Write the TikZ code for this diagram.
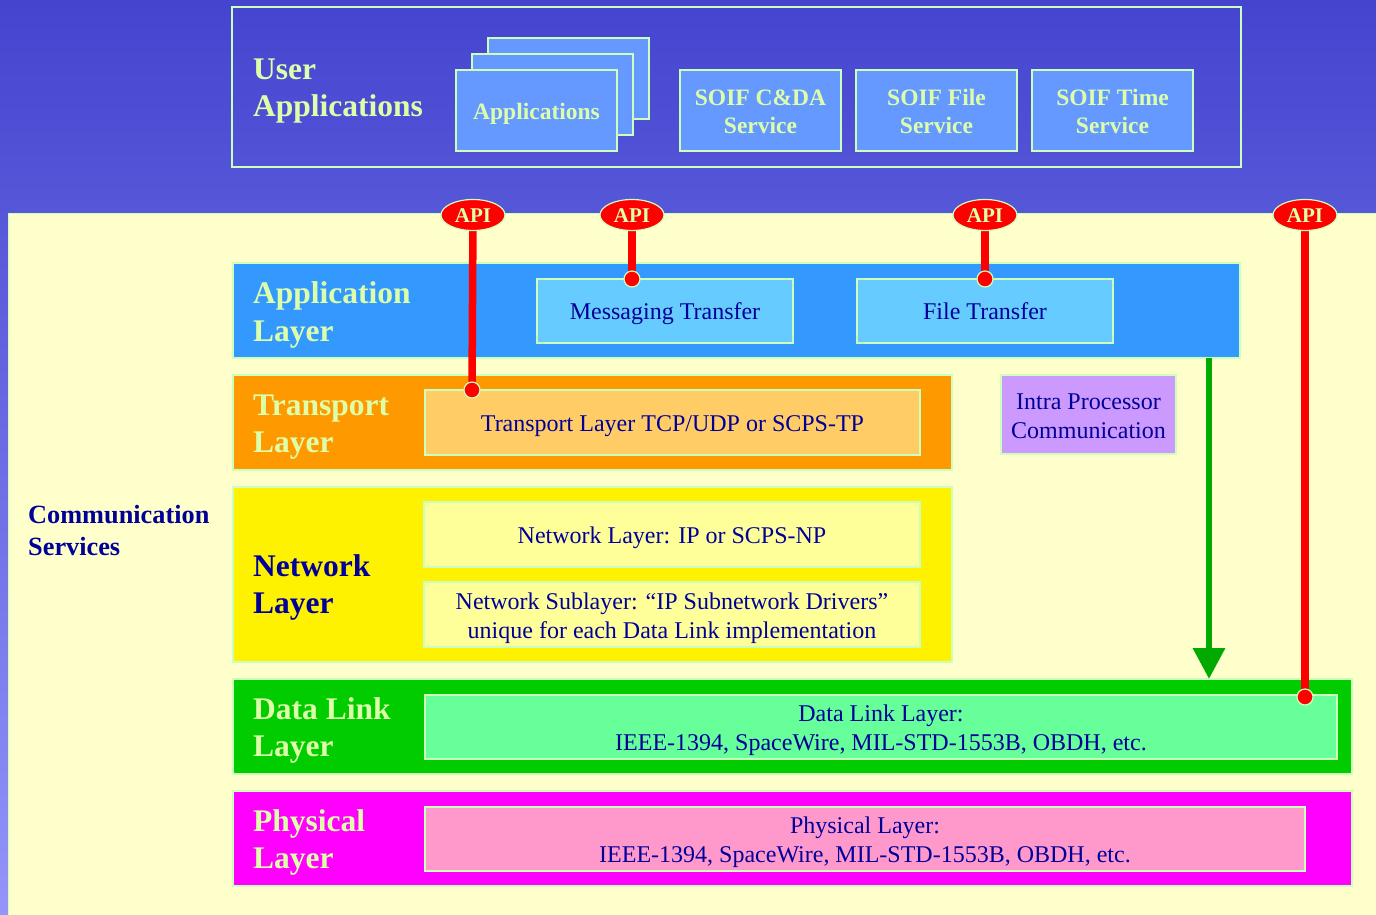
\documentclass[tikz,border=0pt]{standalone}
\usepackage{fontspec}
\setmainfont{Liberation Serif}
\usetikzlibrary{arrows.meta,shapes.geometric}
\definecolor{pale}{HTML}{DDFFAA}
\definecolor{edge}{HTML}{CCFFBB}
\definecolor{navy}{HTML}{000099}
\definecolor{bgtop}{HTML}{4444CF}
\definecolor{bgbot}{HTML}{9494FA}
\definecolor{cream}{HTML}{FFFFCC}
\definecolor{appblue}{HTML}{6699FF}
\definecolor{applayer}{HTML}{3399FF}
\definecolor{appinner}{HTML}{66CCFF}
\definecolor{trans}{HTML}{FF9900}
\definecolor{transin}{HTML}{FFCC66}
\definecolor{intra}{HTML}{CC99FF}
\definecolor{netin}{HTML}{FFFF99}
\definecolor{dlink}{HTML}{00CC00}
\definecolor{dlinkin}{HTML}{66FF99}
\definecolor{phys}{HTML}{FF00FF}
\definecolor{physin}{HTML}{FF99CC}
\definecolor{garrow}{HTML}{00AA00}
\begin{document}
\begin{tikzpicture}[x=1pt,y=-1pt,
  box/.style={draw=edge, line width=1.5pt, inner sep=0pt},
  title/.style={anchor=west, align=left, inner sep=0pt, font=\fontsize{31.5}{37.5}\selectfont\bfseries, text=pale},
  navytitle/.style={title, text=navy},
  body/.style={align=center, inner sep=0pt, font=\fontsize{24}{29}\selectfont, text=navy},
  boldpale/.style={align=center, inner sep=0pt, font=\fontsize{23.5}{28}\selectfont\bfseries, text=pale},
  api/.style={ellipse, fill=red, draw=edge, line width=1.2pt, minimum width=64pt, minimum height=31pt, inner sep=0pt},
  apitext/.style={inner sep=0pt, text=pale, font=\fontsize{21}{21}\selectfont\bfseries},
  apiline/.style={draw=red, line width=7.5pt},
  apidot/.style={circle, fill=red, draw=edge, line width=1.2pt, minimum size=16pt, inner sep=0pt},
  grarrow/.style={draw=garrow, line width=6.5pt, -{Triangle[width=31pt,length=31pt]}}
]
\useasboundingbox (0,0) rectangle (1376,915);
% background
\shade[top color=bgtop, bottom color=bgbot] (0,0) rectangle (1376,915);
\fill[cream] (8,213) rectangle (1376,915);
\draw[edge, line width=1pt] (8,915) -- (8,213) -- (1376,213);

% user applications area
\node[draw=edge, line width=1.8pt, minimum width=1009pt, minimum height=160pt, inner sep=0pt] (userbox) at (736.5,87) {};
\node[title] (usertitle) at (253,91) {User\\Applications};
\node[box, fill=appblue, minimum width=161pt, minimum height=81pt] (app3) at (568.5,78.5) {};
\node[box, fill=appblue, minimum width=161pt, minimum height=81pt] (app2) at (552.5,94.5) {};
\node[box, fill=appblue, minimum width=161pt, minimum height=81pt] (app1) at (536.5,110.5) {};
\node[boldpale, yshift=-3pt] (app1t) at (app1) {Applications};
\node[box, fill=appblue, minimum width=161pt, minimum height=81pt] (soif1) at (760.5,110.5) {};
\node[boldpale, yshift=-1pt] (soif1t) at (soif1) {SOIF C\&DA\\Service};
\node[box, fill=appblue, minimum width=161pt, minimum height=81pt] (soif2) at (936.5,110.5) {};
\node[boldpale, yshift=-1pt] (soif2t) at (soif2) {SOIF File\\Service};
\node[box, fill=appblue, minimum width=161pt, minimum height=81pt] (soif3) at (1112.5,110.5) {};
\node[boldpale, yshift=-1pt] (soif3t) at (soif3) {SOIF Time\\Service};

% communication services label
\node[anchor=west, align=left, inner sep=0pt, font=\fontsize{26.3}{32}\selectfont\bfseries, text=navy] (comm) at (28,530) {Communication\\Services};

% application layer
\node[box, fill=applayer, minimum width=1007pt, minimum height=95pt] (applay) at (736.5,310.5) {};
\node[title] (applaytitle) at (253,315) {Application\\Layer};
\node[box, fill=appinner, minimum width=256pt, minimum height=64pt] (msg) at (665,311) {};
\node[body, yshift=-3pt] (msgt) at (msg) {Messaging Transfer};
\node[box, fill=appinner, minimum width=256pt, minimum height=64pt] (file) at (985,311) {};
\node[body] (filet) at (file) {File Transfer};

% transport layer
\node[box, fill=trans, minimum width=719pt, minimum height=95pt] (translay) at (592.5,422.5) {};
\node[title] (transtitle) at (253,427) {Transport\\Layer};
\node[box, fill=transin, minimum width=495pt, minimum height=65pt] (transin) at (672.5,422.5) {};
\node[body, yshift=-4pt] (transint) at (transin) {Transport Layer TCP/UDP or SCPS-TP};

% intra processor
\node[box, fill=intra, minimum width=175pt, minimum height=79pt] (intra) at (1088.5,414.5) {};
\node[body, yshift=-2pt] (intrat) at (intra) {Intra Processor\\Communication};

% network layer
\node[box, fill=yellow, minimum width=719pt, minimum height=175pt] (netlay) at (592.5,574.5) {};
\node[navytitle] (nettitle) at (253,587.5) {Network\\Layer};
\node[box, fill=netin, minimum width=496pt, minimum height=65pt] (netin1) at (672,534.5) {};
\node[body, yshift=-3pt] (netin1t) at (netin1) {Network Layer: IP or SCPS-NP};
\node[box, fill=netin, minimum width=496pt, minimum height=65pt] (netin2) at (672,614.5) {};
\node[body, yshift=-4pt] (netin2t) at (netin2) {Network Sublayer: ``IP Subnetwork Drivers''\\unique for each Data Link implementation};

% data link layer
\node[box, fill=dlink, minimum width=1119pt, minimum height=95pt] (dllay) at (792.5,726.5) {};
\node[title] (dltitle) at (253,730.5) {Data Link\\Layer};
\node[box, fill=dlinkin, minimum width=912pt, minimum height=64pt] (dlin) at (881,727) {};
\node[body, yshift=-3pt] (dlint) at (dlin) {Data Link Layer:\\IEEE-1394, SpaceWire, MIL-STD-1553B, OBDH, etc.};

% physical layer
\node[box, fill=phys, minimum width=1119pt, minimum height=95pt] (phlay) at (792.5,838.5) {};
\node[title] (phtitle) at (253,842.5) {Physical\\Layer};
\node[box, fill=physin, minimum width=880pt, minimum height=64pt] (phin) at (865,839) {};
\node[body, yshift=-3pt] (phint) at (phin) {Physical Layer:\\IEEE-1394, SpaceWire, MIL-STD-1553B, OBDH, etc.};

% green arrow
\coordinate (gstart) at (1209,358);
\coordinate (gend) at (1209,679);
\draw[grarrow] (gstart) -- (gend);

% API connectors
\coordinate (d1) at (472,390);
\coordinate (d2) at (632,279);
\coordinate (d3) at (985,279);
\coordinate (d4) at (1305,697);
\coordinate (a1) at (473,215);
\coordinate (a2) at (632,215);
\coordinate (a3) at (985,215);
\coordinate (a4) at (1305,215);
\draw[apiline] (a1) -- (d1);
\draw[apiline] (a2) -- (d2);
\draw[apiline] (a3) -- (d3);
\draw[apiline] (a4) -- (d4);
\node[apidot] (dot1) at (d1) {};
\node[apidot] (dot2) at (d2) {};
\node[apidot] (dot3) at (d3) {};
\node[apidot] (dot4) at (d4) {};
\node[api] (api1) at (a1) {};
\node[api] (api2) at (a2) {};
\node[api] (api3) at (a3) {};
\node[api] (api4) at (a4) {};
\node[apitext, yshift=-1pt] (api1t) at (api1) {API};
\node[apitext, yshift=-1pt] (api2t) at (api2) {API};
\node[apitext, yshift=-1pt] (api3t) at (api3) {API};
\node[apitext, yshift=-1pt] (api4t) at (api4) {API};
\end{tikzpicture}
\end{document}
